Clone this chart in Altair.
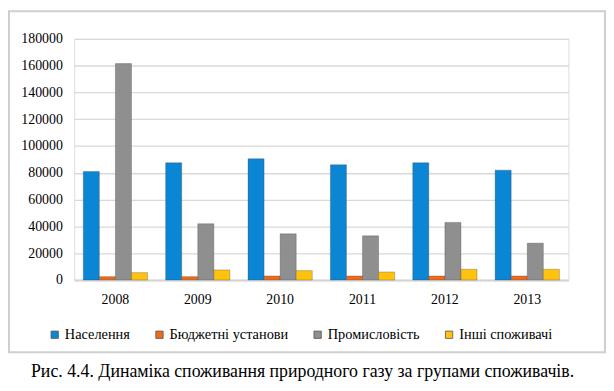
import altair as alt
import pandas as pd

years = ["2008", "2009", "2010", "2011", "2012", "2013"]
series = ["Населення", "Бюджетні установи", "Промисловість", "Інші споживачі"]
naselennia = [81000, 87500, 90500, 86000, 87500, 82000]
biudzhetni = [2500, 2500, 3000, 3000, 3000, 3000]
promyslovist = [161500, 42000, 34500, 33000, 43000, 27500]
inshi = [5500, 7500, 7000, 6000, 8000, 8000]
colors = ["#0b86d4", "#f06a1c", "#8f8f8f", "#ffc20e"]
caption = "Рис. 4.4. Динаміка споживання природного газу  за групами споживачів."

rows = []
for name, vals in zip(series, [naselennia, biudzhetni, promyslovist, inshi]):
    for y, v in zip(years, vals):
        rows.append({"year": y, "group": name, "value": v})
df = pd.DataFrame(rows)

W, H = 500, 244
FONT = "Liberation Serif"

bars = alt.Chart(df).mark_bar(stroke="#3a3a3a", strokeWidth=0.6, strokeOpacity=0.5).encode(
    x=alt.X("year:N", sort=years, title=None,
            scale=alt.Scale(paddingInner=0.22, paddingOuter=0.11),
            axis=alt.Axis(labelAngle=0, labelFont=FONT, labelFontSize=14, labelColor="#000",
                          labelPadding=13, ticks=False, domainColor="#d4d4d4", domainWidth=2, grid=False)),
    xOffset=alt.XOffset("group:N", sort=series, scale=alt.Scale(paddingInner=0.0)),
    y=alt.Y("value:Q", title=None,
            scale=alt.Scale(domain=[0, 180000]),
            axis=alt.Axis(values=list(range(0, 180001, 20000)), format="d", labelFont=FONT,
                          labelFontSize=14, labelColor="#000", labelPadding=12, ticks=False,
                          domain=False, gridColor="#d9d9d9", gridWidth=1.3)),
    color=alt.Color("group:N", sort=series, title=None,
                    scale=alt.Scale(domain=series, range=colors),
                    legend=alt.Legend(orient="none", legendX=-27, legendY=292, direction="horizontal",
                                      symbolType="square", symbolSize=55, symbolStrokeWidth=0.8,
                                      symbolStrokeColor="#555", labelFont=FONT, labelFontSize=14.5,
                                      labelColor="#000", columnPadding=22, labelOffset=3,
                                      labelLimit=300)),
)

box = alt.Chart(pd.DataFrame({"k": [0]})).mark_rect(
    fill=None, stroke="#cfcfcf", strokeWidth=2, clip=False
).encode(
    x=alt.value(-66), x2=alt.value(537), y=alt.value(-28), y2=alt.value(317)
)

cap = alt.Chart(pd.DataFrame({"t": [caption]})).mark_text(
    font=FONT, fontSize=18, color="#000", align="center", baseline="middle", clip=False
).encode(
    text="t:N", x=alt.value(231), y=alt.value(337)
)

chart = alt.layer(box, bars, cap).properties(
    width=W, height=H, padding=0
).configure_view(stroke=None).configure(background="white", font=FONT)

chart.save("out.html", embed_options={"renderer": "svg", "actions": False})
